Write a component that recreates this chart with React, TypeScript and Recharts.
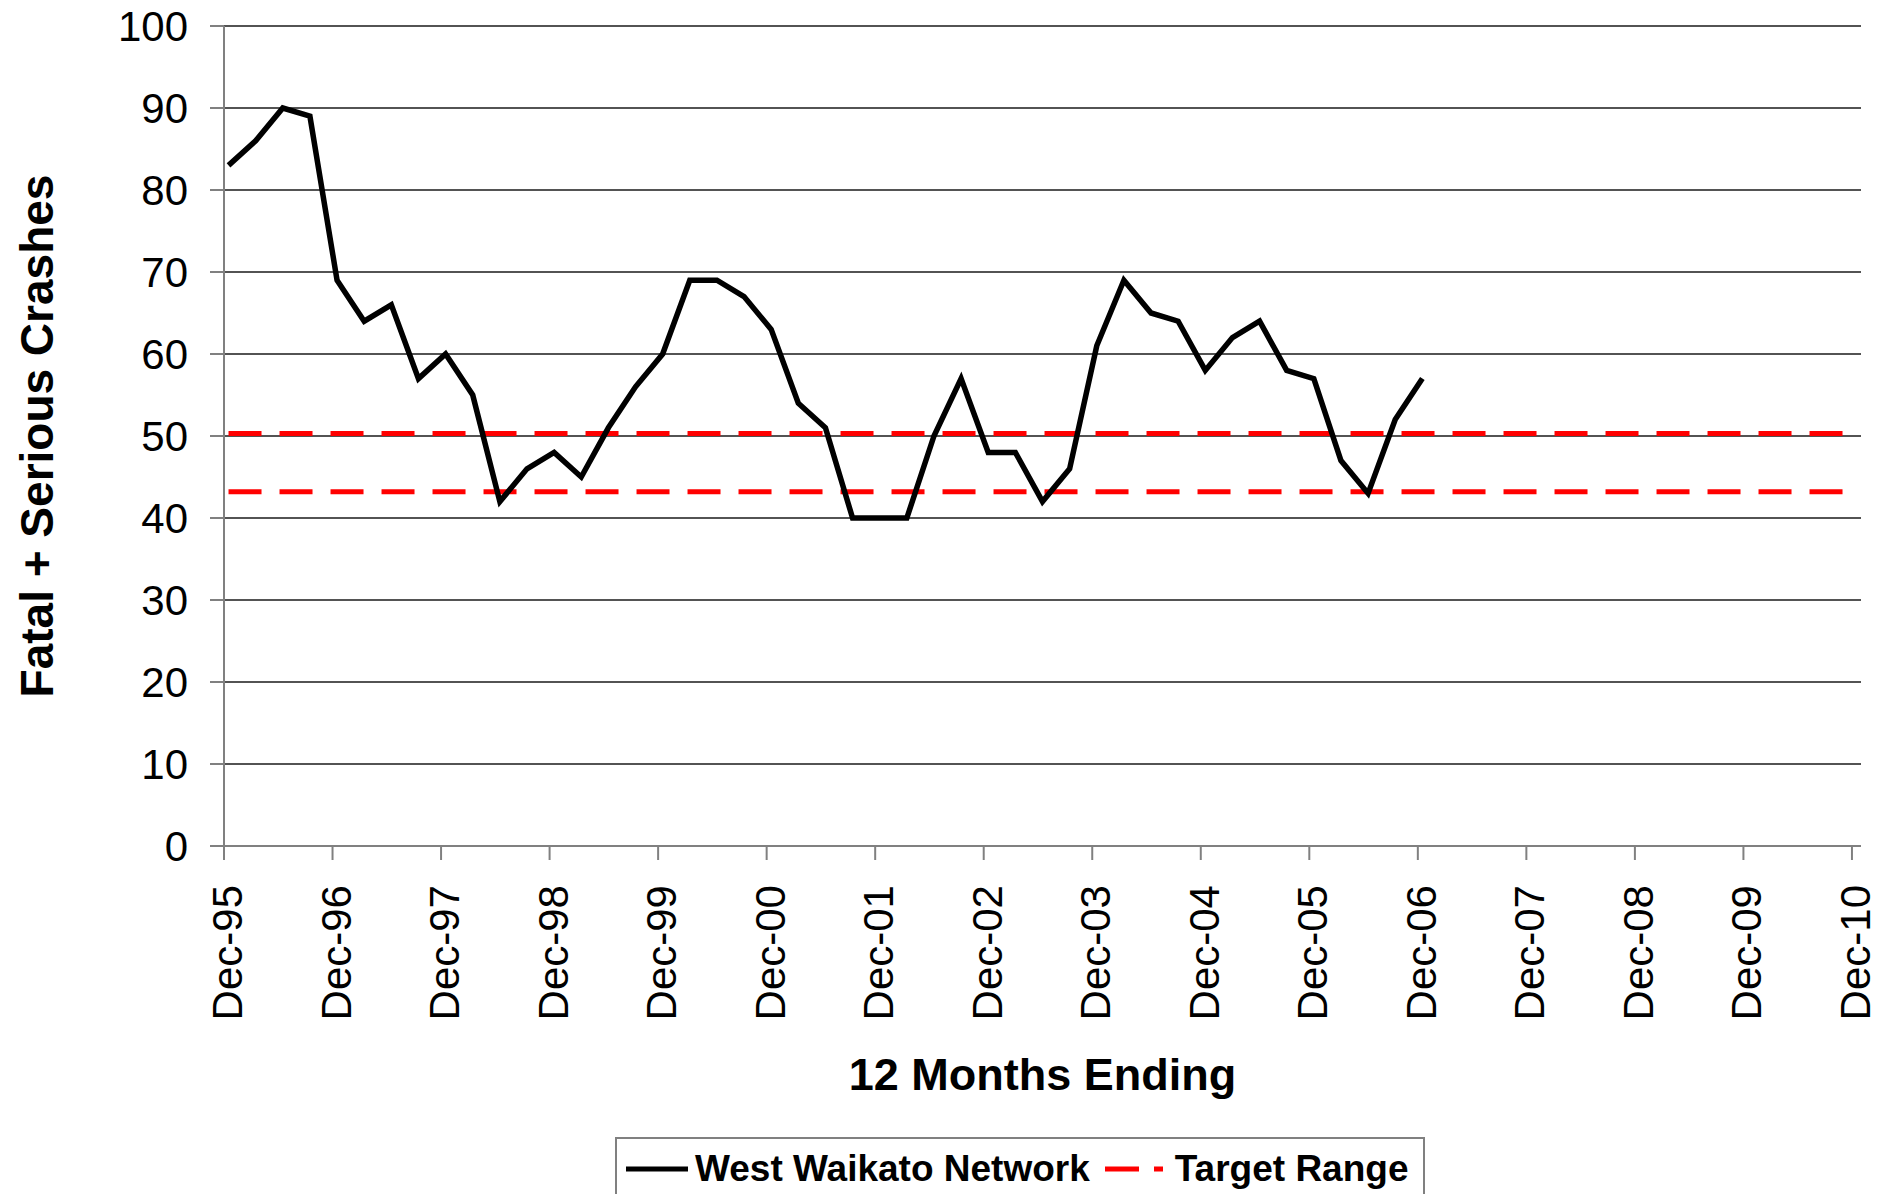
import { CartesianGrid, Legend, Line, LineChart, XAxis, YAxis } from "recharts";

// quarterly "12 months ending" points, Dec-95 .. Dec-06
const quarters = [
  "Dec-95", "Mar-96", "Jun-96", "Sep-96",
  "Dec-96", "Mar-97", "Jun-97", "Sep-97",
  "Dec-97", "Mar-98", "Jun-98", "Sep-98",
  "Dec-98", "Mar-99", "Jun-99", "Sep-99",
  "Dec-99", "Mar-00", "Jun-00", "Sep-00",
  "Dec-00", "Mar-01", "Jun-01", "Sep-01",
  "Dec-01", "Mar-02", "Jun-02", "Sep-02",
  "Dec-02", "Mar-03", "Jun-03", "Sep-03",
  "Dec-03", "Mar-04", "Jun-04", "Sep-04",
  "Dec-04", "Mar-05", "Jun-05", "Sep-05",
  "Dec-05", "Mar-06", "Jun-06", "Sep-06",
  "Dec-06",
];

const crashes = [
  83, 86, 90, 89,
  69, 64, 66, 57,
  60, 55, 42, 46,
  48, 45, 51, 56,
  60, 69, 69, 67,
  63, 54, 51, 40,
  40, 40, 50, 57,
  48, 48, 42, 46,
  61, 69, 65, 64,
  58, 62, 64, 58,
  57, 47, 43, 52,
  57,
];

const yearLabels = [
  "Dec-95", "Dec-96", "Dec-97", "Dec-98", "Dec-99", "Dec-00", "Dec-01", "Dec-02",
  "Dec-03", "Dec-04", "Dec-05", "Dec-06", "Dec-07", "Dec-08", "Dec-09", "Dec-10",
];

const yTicks = [0, 10, 20, 30, 40, 50, 60, 70, 80, 90, 100];

const targetLow = 43.2;
const targetHigh = 50.3;

const FONT = "'Liberation Sans', Arial, Helvetica, sans-serif";

// x axis is in months from Dec-95; each point sits in the middle of its month
const crashData = quarters.map((label, i) => ({
  month: i * 3 + 0.5,
  label,
  crashes: crashes[i],
}));

const lastMonth = (yearLabels.length - 1) * 12;
const targetData = [
  { month: 0.5, high: targetHigh, low: targetLow },
  { month: lastMonth + 0.5, high: targetHigh, low: targetLow },
];

const monthTicks = yearLabels.map((_, i) => i * 12);

function XTick(props: any) {
  const { x, y, payload } = props;
  const label = yearLabels[Math.round(payload.value / 12)];
  return (
    <text
      x={x}
      y={y}
      transform={`rotate(-90, ${x}, ${y})`}
      textAnchor="end"
      dy={18}
      fontSize={42}
      fontFamily={FONT}
      fill="#000"
    >
      {label}
    </text>
  );
}

function YTitle(props: any) {
  const { viewBox } = props;
  const x = viewBox.x + 53;
  const y = viewBox.y + viewBox.height / 2;
  return (
    <text
      x={x}
      y={y}
      transform={`rotate(-90, ${x}, ${y})`}
      textAnchor="middle"
      fontSize={46}
      fontWeight="bold"
      fontFamily={FONT}
      fill="#000"
    >
      Fatal + Serious Crashes
    </text>
  );
}

function XTitle(props: any) {
  const { viewBox } = props;
  return (
    <text
      x={viewBox.x + viewBox.width / 2}
      y={viewBox.y + 244}
      textAnchor="middle"
      fontSize={45}
      fontWeight="bold"
      fontFamily={FONT}
      fill="#000"
    >
      12 Months Ending
    </text>
  );
}

function LegendBox() {
  const text = { fontSize: 37, fontWeight: "bold" as const, fontFamily: FONT, color: "#000" };
  return (
    <div
      style={{
        display: "flex",
        alignItems: "center",
        border: "2px solid #808080",
        height: 64,
        boxSizing: "border-box",
        paddingLeft: 9,
        paddingRight: 15,
        background: "#fff",
        whiteSpace: "nowrap",
      }}
    >
      <svg width={62} height={10} style={{ marginRight: 7 }}>
        <line x1={0} y1={5} x2={62} y2={5} stroke="#000" strokeWidth={5} />
      </svg>
      <span style={text}>West Waikato Network</span>
      <svg width={58} height={10} style={{ marginLeft: 15, marginRight: 12 }}>
        <line x1={0} y1={5} x2={58} y2={5} stroke="#ff0000" strokeWidth={5} strokeDasharray="34 15" />
      </svg>
      <span style={text}>Target Range</span>
    </div>
  );
}

export default function App() {
  return (
    <div style={{ position: "absolute", left: 0, top: 0, width: 1894, height: 1194, overflow: "hidden", background: "#fff" }}>
      <LineChart width={1894} height={1194} margin={{ top: 26, right: 33, left: 0, bottom: 0 }}>
        <CartesianGrid vertical={false} stroke="#1a1a1a" strokeWidth={1.5} />
        <XAxis
          type="number"
          dataKey="month"
          domain={[0, lastMonth + 1]}
          ticks={monthTicks}
          interval={0}
          height={348}
          tickSize={14}
          tickMargin={25}
          tick={<XTick />}
          axisLine={{ stroke: "#808080", strokeWidth: 2 }}
          tickLine={{ stroke: "#808080", strokeWidth: 2 }}
          label={XTitle}
        />
        <YAxis
          type="number"
          domain={[0, 100]}
          ticks={yTicks}
          interval={0}
          width={224}
          tickSize={14}
          tickMargin={22}
          tick={{ fontSize: 42, fontFamily: FONT, fill: "#000" }}
          axisLine={{ stroke: "#808080", strokeWidth: 2 }}
          tickLine={{ stroke: "#808080", strokeWidth: 2 }}
          label={YTitle}
        />
        <Line
          data={targetData}
          dataKey="high"
          stroke="#ff0000"
          strokeWidth={5}
          strokeDasharray="33 18"
          dot={false}
          activeDot={false}
          isAnimationActive={false}
          legendType="none"
        />
        <Line
          data={targetData}
          dataKey="low"
          stroke="#ff0000"
          strokeWidth={5}
          strokeDasharray="33 18"
          dot={false}
          activeDot={false}
          isAnimationActive={false}
          legendType="none"
        />
        <Line
          data={crashData}
          dataKey="crashes"
          name="West Waikato Network"
          stroke="#000"
          strokeWidth={5.5}
          dot={false}
          activeDot={false}
          isAnimationActive={false}
        />
        <Legend
          layout="horizontal"
          verticalAlign="middle"
          align="center"
          wrapperStyle={{ left: 615, top: 1137, width: "auto" }}
          content={<LegendBox />}
        />
      </LineChart>
    </div>
  );
}
